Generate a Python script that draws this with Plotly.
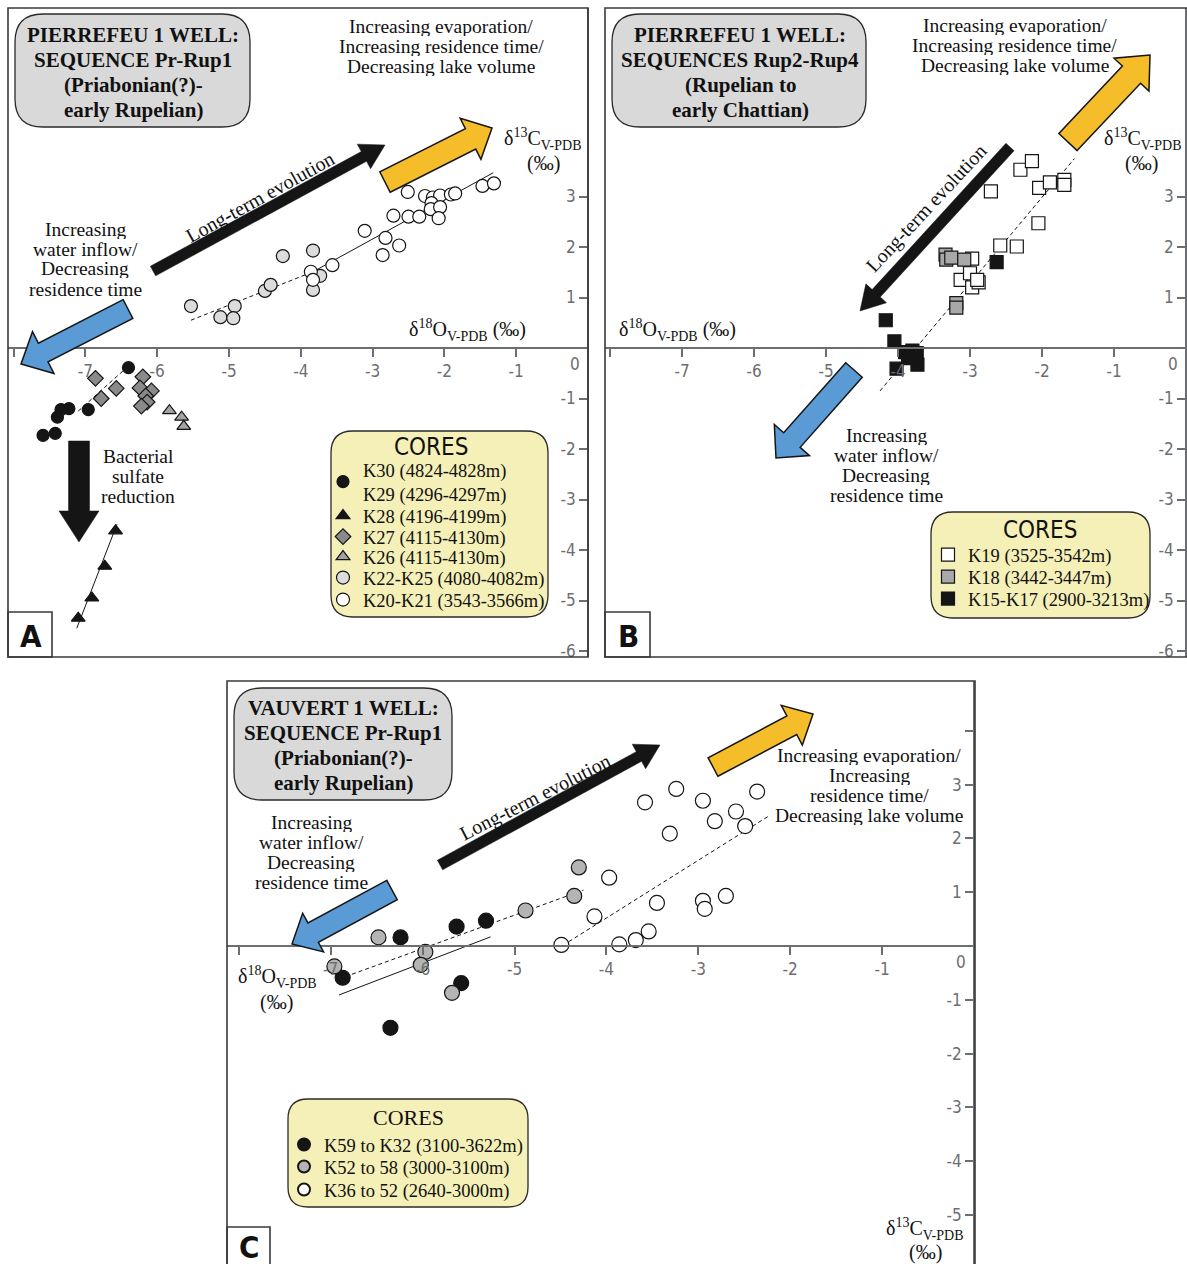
import math
import plotly.graph_objects as go

W, H = 1187, 1264

# ---------------- DATA ----------------
# Panel A  (Pierrefeu 1, Pr-Rup1)
A_K30_x = [-6.40, -6.96, -7.23, -7.34, -7.39, -7.42, -7.59]
A_K30_y = [-0.39, -1.22, -1.20, -1.22, -1.37, -1.69, -1.73]
A_K28_x = [-6.58, -6.73, -6.91, -7.10]
A_K28_y = [-3.62, -4.32, -4.95, -5.35]
A_K27_x = [-6.86, -6.57, -6.78, -6.20, -6.24, -6.08, -6.16, -6.14, -6.22]
A_K27_y = [-0.60, -0.80, -1.00, -0.57, -0.79, -0.85, -0.95, -1.07, -1.15]
A_K26_x = [-5.83, -5.66, -5.63]
A_K26_y = [-1.24, -1.37, -1.55]
A_K22_x = [-5.53, -5.12, -4.92, -4.94, -4.50, -4.42, -4.25, -3.83, -3.73, -3.83]
A_K22_y = [0.83, 0.61, 0.83, 0.59, 1.13, 1.25, 1.82, 1.93, 1.43, 1.15]
A_K20_x = [-3.86, -3.83, -3.56, -3.11, -2.82, -2.63, -2.86, -2.71, -2.50, -2.35, -2.51,
           -2.27, -2.16, -2.06, -2.18, -2.19, -2.06, -2.08, -1.91, -1.85, -1.47, -1.31]
A_K20_y = [1.51, 1.35, 1.64, 2.32, 2.18, 2.03, 1.84, 2.62, 2.60, 2.60, 3.09,
           3.01, 2.98, 3.02, 2.87, 2.75, 2.79, 2.57, 3.04, 3.06, 3.21, 3.26]
A_fit_dash_x = [-5.53, -3.83]
A_fit_dash_y = [0.55, 1.51]
A_fit_solid_x = [-3.83, -1.32]
A_fit_solid_y = [1.51, 3.47]
A_fit_black_x = [-7.10, -6.45]
A_fit_black_y = [-1.25, -0.42]
A_fit_tri_x = [-7.12, -6.56]
A_fit_tri_y = [-5.55, -3.49]

# Panel B  (Pierrefeu 1, Rup2-Rup4)
B_K19_x = [-2.30, -2.14, -2.71, -2.04, -1.89, -1.69, -1.69, -2.05, -2.58, -2.35,
           -2.97, -3.13, -3.00, -2.97, -2.88, -2.90]
B_K19_y = [3.53, 3.70, 3.10, 3.17, 3.28, 3.33, 3.23, 2.47, 2.03, 2.01,
           1.77, 1.35, 1.48, 1.20, 1.30, 1.35]
B_K18_x = [-3.34, -3.33, -3.26, -3.08, -3.19, -3.19]
B_K18_y = [1.85, 1.75, 1.79, 1.75, 0.89, 0.80]
B_K15_x = [-2.63, -4.17, -4.05, -3.90, -3.74, -3.73, -4.02, -3.86, -3.80]
B_K15_y = [1.70, 0.55, 0.13, -0.08, -0.10, -0.33, -0.41, -0.20, -0.05]
B_fit_x = [-4.25, -1.55]
B_fit_y = [-0.85, 3.75]

# Panel C  (Vauvert 1, Pr-Rup1)
C_K59_x = [-6.24, -5.63, -5.31, -6.87, -5.58, -6.35]
C_K59_y = [0.16, 0.36, 0.47, -0.59, -0.69, -1.52]
C_K52_x = [-6.48, -5.97, -6.02, -6.96, -5.68, -4.88, -4.35, -4.30]
C_K52_y = [0.16, -0.11, -0.35, -0.38, -0.87, 0.66, 0.93, 1.46]
C_K36_x = [-4.49, -4.13, -3.97, -3.86, -3.68, -3.54, -3.45, -2.95, -2.93, -2.70,
           -3.31, -3.58, -3.24, -2.95, -2.82, -2.59, -2.49, -2.36]
C_K36_y = [0.02, 0.55, 1.27, 0.03, 0.11, 0.27, 0.80, 0.84, 0.69, 0.93,
           2.09, 2.67, 2.92, 2.70, 2.32, 2.50, 2.23, 2.87]
C_fit_gray_x = [-6.84, -4.25]
C_fit_gray_y = [-0.57, 1.04]
C_fit_black_x = [-6.91, -5.26]
C_fit_black_y = [-0.91, 0.17]
C_fit_white_x = [-4.41, -2.22]
C_fit_white_y = [0.08, 2.43]

X_TICKS = [-8, -7, -6, -5, -4, -3, -2, -1]
X_TICKTEXT = ["", "-7", "-6", "-5", "-4", "-3", "-2", "-1"]
AB_Y_TICKS = [-6, -5, -4, -3, -2, -1, 1, 2, 3]
C_Y_TICKS = [-5, -4, -3, -2, -1, 1, 2, 3, 4]
C_Y_TICKTEXT = ["-5", "-4", "-3", "-2", "-1", "1", "2", "3", ""]

# ---------------- STYLE ----------------
SERIF = "Liberation Serif, Times New Roman, serif"
COND = "Liberation Sans Narrow, DejaVu Sans Condensed, sans-serif"
AXC = "#6d6e71"
BLACK = "#151515"
YELLOW = "#f5bd2a"
BLUE = "#5b9bd5"
LEGBG = "#f4f0b8"
TITLEBG = "#d9d9d9"


def px(x):
    return x / W


def py(y):
    return 1 - y / H


fig = go.Figure()
mk_line = dict(color=BLACK, width=1.2)
legend_specs = {}   # legend id -> (left px, centre y px)
leg_counter = [0]


def new_legend(xpx, ypx):
    leg_counter[0] += 1
    lid = "legend" if leg_counter[0] == 1 else f"legend{leg_counter[0]}"
    legend_specs[lid] = (xpx, ypx)
    return lid


def pts(x, y, name, symbol, color, size, xa, ya, leg_xy):
    lid = new_legend(*leg_xy)
    fig.add_trace(go.Scatter(
        x=x, y=y, mode="markers", name=name, legend=lid,
        xaxis=xa, yaxis=ya,
        marker=dict(symbol=symbol, color=color, size=size, line=mk_line)))


def fit(x, y, dash, xa, ya):
    fig.add_trace(go.Scatter(
        x=x, y=y, mode="lines", showlegend=False, hoverinfo="skip",
        xaxis=xa, yaxis=ya, line=dict(color=BLACK, width=1, dash=dash)))


# Panel A traces
fit(A_fit_dash_x, A_fit_dash_y, "4px,3px", "x", "y")
fit(A_fit_solid_x, A_fit_solid_y, "solid", "x", "y")
fit(A_fit_black_x, A_fit_black_y, "4px,3px", "x", "y")
fit(A_fit_tri_x, A_fit_tri_y, "solid", "x", "y")
pts(A_K30_x, A_K30_y, "K30 (4824-4828m)<br>K29 (4296-4297m)", "circle", BLACK, 12, "x", "y", (323, 482))
pts(A_K28_x, A_K28_y, "K28 (4196-4199m)", "triangle-up", BLACK, 12, "x", "y", (323, 516))
pts(A_K27_x, A_K27_y, "K27 (4115-4130m)", "diamond", "#8a8a8a", 12, "x", "y", (323, 537))
pts(A_K26_x, A_K26_y, "K26 (4115-4130m)", "triangle-up", "#a3a3a3", 12, "x", "y", (323, 557))
pts(A_K22_x, A_K22_y, "K22-K25 (4080-4082m)", "circle", "#dcdcdc", 13, "x", "y", (323, 578))
pts(A_K20_x, A_K20_y, "K20-K21 (3543-3566m)", "circle", "white", 13, "x", "y", (323, 600))

# Panel B traces
fit(B_fit_x, B_fit_y, "4px,3px", "x2", "y2")
pts(B_K19_x, B_K19_y, "K19 (3525-3542m)", "square", "white", 13, "x2", "y2", (928, 555))
pts(B_K18_x, B_K18_y, "K18 (3442-3447m)", "square", "#a8a8a8", 13, "x2", "y2", (928, 577))
pts(B_K15_x, B_K15_y, "K15-K17 (2900-3213m)", "square", BLACK, 13, "x2", "y2", (928, 599))

# Panel C traces
fit(C_fit_gray_x, C_fit_gray_y, "4px,3px", "x3", "y3")
fit(C_fit_black_x, C_fit_black_y, "solid", "x3", "y3")
fit(C_fit_white_x, C_fit_white_y, "4px,3px", "x3", "y3")
pts(C_K59_x, C_K59_y, "K59 to K32 (3100-3622m)", "circle", BLACK, 15, "x3", "y3", (284, 1145))
pts(C_K52_x, C_K52_y, "K52 to 58 (3000-3100m)", "circle", "#b4b4b4", 15, "x3", "y3", (284, 1167))
pts(C_K36_x, C_K36_y, "K36 to 52 (2640-3000m)", "circle", "white", 15, "x3", "y3", (284, 1190))

# ---------------- AXES ----------------
tickfont = dict(family=COND, size=17, color=AXC)


def xax(dom_px, rng, zero_py):
    return dict(domain=[px(dom_px[0]), px(dom_px[1])], range=rng, anchor="free",
                position=py(zero_py), showline=True, linecolor=AXC, linewidth=1.5,
                ticks="outside", ticklen=8, tickwidth=1.5, tickcolor=AXC,
                tickvals=X_TICKS, ticktext=X_TICKTEXT, tickfont=tickfont,
                showgrid=False, zeroline=False, fixedrange=True)


def yax(dom_py, rng, zero_px, tv, tt):
    return dict(domain=[py(dom_py[1]), py(dom_py[0])], range=rng, anchor="free",
                position=px(zero_px), side="left", showline=True, linecolor=AXC,
                linewidth=1.5, ticks="outside", ticklen=8, tickwidth=1.5, tickcolor=AXC,
                tickvals=tv, ticktext=tt, tickfont=tickfont,
                showgrid=False, zeroline=False, fixedrange=True)


ab_tt = [str(v) for v in AB_Y_TICKS]
fig.update_layout(
    xaxis=xax((8, 588), [(8 - 588) / 71.8, 0], 348),
    yaxis=yax((8, 657), [(348 - 657) / 50.5, (348 - 8) / 50.5], 588, AB_Y_TICKS, ab_tt),
    xaxis2=xax((605, 1186), [(605 - 1186) / 72.0, 0], 348),
    yaxis2=yax((8, 657), [(348 - 657) / 50.5, (348 - 8) / 50.5], 1186, AB_Y_TICKS, ab_tt),
    xaxis3=xax((227, 974), [(227 - 974) / 91.9, 0], 946),
    yaxis3=yax((681, 1264), [(946 - 1264) / 53.8, (946 - 681) / 53.8], 974, C_Y_TICKS, C_Y_TICKTEXT),
)

# ---------------- SHAPES ----------------
shapes = []


def rect(x0, y0, x1, y1, color="#3a3a3a", width=1.6):
    shapes.append(dict(type="rect", xref="paper", yref="paper",
                       x0=px(x0), x1=px(x1), y0=py(y1), y1=py(y0),
                       line=dict(color=color, width=width),
                       fillcolor="rgba(0,0,0,0)", layer="above"))


def rrect(x0, y0, x1, y1, r, fill):
    P = lambda a, b: f"{px(a):.5f},{py(b):.5f}"
    d = (f"M{P(x0 + r, y0)} L{P(x1 - r, y0)} Q{P(x1, y0)} {P(x1, y0 + r)} "
         f"L{P(x1, y1 - r)} Q{P(x1, y1)} {P(x1 - r, y1)} L{P(x0 + r, y1)} "
         f"Q{P(x0, y1)} {P(x0, y1 - r)} L{P(x0, y0 + r)} Q{P(x0, y0)} {P(x0 + r, y0)} Z")
    shapes.append(dict(type="path", xref="paper", yref="paper", path=d,
                       fillcolor=fill, line=dict(color="#2a2a2a", width=1.3), layer="above"))


def arrow(tail, tip, shaft, head, hlen, fill, outline=None):
    tx, ty = tail
    hx, hy = tip
    L = math.hypot(hx - tx, hy - ty)
    ux, uy = (hx - tx) / L, (hy - ty) / L
    nx, ny = -uy, ux
    bx, by = hx - ux * hlen, hy - uy * hlen
    s, h = shaft / 2, head / 2
    ptsl = [(tx + nx * s, ty + ny * s), (bx + nx * s, by + ny * s), (bx + nx * h, by + ny * h),
            (hx, hy), (bx - nx * h, by - ny * h), (bx - nx * s, by - ny * s), (tx - nx * s, ty - ny * s)]
    d = "M" + " L".join(f"{px(a):.5f},{py(b):.5f}" for a, b in ptsl) + " Z"
    shapes.append(dict(type="path", xref="paper", yref="paper", path=d, fillcolor=fill,
                       line=dict(color=outline if outline else fill, width=1.5 if outline else 0.5),
                       layer="above"))


# panel frames
rect(8, 8, 588, 657)
rect(605, 8, 1195, 657)
rect(227, 681, 975, 1275)
# letter boxes
rect(8, 612, 52, 657)
rect(605, 612, 650, 657)
rect(227, 1227, 270, 1275)
# title boxes
rrect(15, 14, 250, 127, 28, TITLEBG)
rrect(612, 14, 866, 127, 28, TITLEBG)
rrect(234, 688, 452, 800, 28, TITLEBG)
# legend boxes
rrect(331, 431, 548, 617, 22, LEGBG)
rrect(931, 512, 1150, 618, 22, LEGBG)
rrect(288, 1099, 528, 1207, 20, LEGBG)

# arrows - panel A
arrow((153, 271), (385, 145), 11, 28, 24, BLACK)
arrow((385, 182), (492, 128), 23, 46, 24, YELLOW, BLACK)
arrow((128, 309), (21, 364), 21, 47, 25, BLUE, BLACK)
arrow((79, 441), (79, 542), 21, 40, 31, BLACK)
# arrows - panel B
arrow((1010, 147), (860, 311), 11, 28, 24, BLACK)
arrow((1068, 142), (1150, 55), 25, 48, 27, YELLOW, BLACK)
arrow((854, 370), (776, 458), 22, 47, 24, BLUE, BLACK)
# arrows - panel C
arrow((440, 865), (660, 745), 11, 28, 24, BLACK)
arrow((713, 767), (813, 714), 21, 45, 24, YELLOW, BLACK)
arrow((392, 890), (292, 944), 22, 44, 24, BLUE, BLACK)

# ---------------- TEXT ----------------
ann = []


def lines(txts, cx, cy, size=19.5, bold=False, step=20):
    n = len(txts)
    for i, t in enumerate(txts):
        y = cy + (i - (n - 1) / 2) * step
        ann.append(dict(text=f"<b>{t}</b>" if bold else t, x=px(cx), y=py(y), xref="paper",
                        yref="paper", showarrow=False, xanchor="center", yanchor="middle",
                        height=step, font=dict(family=SERIF, size=size, color="#111")))


def label(t, cx, cy, size=20, angle=0, family=SERIF, color="#111"):
    ann.append(dict(text=t, x=px(cx), y=py(cy), xref="paper", yref="paper", showarrow=False,
                    xanchor="center", yanchor="middle", textangle=angle,
                    font=dict(family=family, size=size, color=color)))


evap3 = ["Increasing evaporation/", "Increasing residence time/", "Decreasing lake volume"]
inflow = ["Increasing", "water inflow/", "Decreasing", "residence time"]
d18 = "δ<sup>18</sup>O<sub>V-PDB</sub> (‰)"
d13 = "δ<sup>13</sup>C<sub>V-PDB</sub>"
LETTER = "DejaVu Sans Condensed, DejaVu Sans, sans-serif"

# Panel A
lines(["PIERREFEU 1 WELL:", "SEQUENCE Pr-Rup1", "(Priabonian(?)-", "early Rupelian)"],
      133, 71.5, size=21, bold=True, step=25)
lines(evap3, 441, 46)
lines(inflow, 85, 258.5)
lines(["Bacterial", "sulfate", "reduction"], 138, 476)
label("Long-term evolution", 260, 197, angle=-29)
label(d18, 467, 330)
label(d13, 543, 139)
label("(‰)", 543, 163)
label("<b>A</b>", 31, 636, size=31, family=LETTER)
label("CORES", 431, 447, size=24, family=COND)

# Panel B
lines(["PIERREFEU 1 WELL:", "SEQUENCES Rup2-Rup4", "(Rupelian to", "early Chattian)"],
      740, 71.5, size=21, bold=True, step=25)
lines(evap3, 1015, 45)
lines(inflow, 886, 465)
label("Long-term evolution", 926, 208, angle=-47)
label(d18, 677, 330)
label(d13, 1143, 139)
label("(‰)", 1141, 163)
label("<b>B</b>", 628, 636, size=31, family=LETTER)
label("CORES", 1040, 530, size=24, family=COND)

# Panel C
lines(["VAUVERT 1 WELL:", "SEQUENCE Pr-Rup1", "(Priabonian(?)-", "early Rupelian)"],
      343, 745, size=21, bold=True, step=25)
lines(["Increasing evaporation/", "Increasing", "residence time/", "Decreasing lake volume"],
      869, 785)
lines(inflow, 311, 852)
label("Long-term evolution", 535, 797, angle=-27)
label("δ<sup>18</sup>O<sub>V-PDB</sub>", 277, 977)
label("(‰)", 276, 1002)
label(d13, 925, 1229)
label("(‰)", 925, 1252)
label("<b>C</b>", 249, 1247, size=31, family=LETTER)
label("CORES", 408, 1117, size=22, family=SERIF)

# origin "0" labels
for xa, ya in (("x", "y"), ("x2", "y2"), ("x3", "y3")):
    ann.append(dict(text="0", x=0, y=0, xref=xa, yref=ya, showarrow=False, xanchor="right",
                    yanchor="top", xshift=-6, yshift=-4, font=tickfont))

# ---------------- LEGENDS (one per entry, placed inside the yellow boxes) ----------------
legfont = dict(family=SERIF, size=18.5, color="#111")
legend_layout = {}
for lid, (lx, ly) in legend_specs.items():
    legend_layout[lid] = dict(
        x=px(lx), y=py(ly), xanchor="left", yanchor="middle",
        bgcolor="rgba(0,0,0,0)", borderwidth=0, font=legfont,
        itemsizing="constant" if ly > 1000 else "trace",
        itemclick=False, itemdoubleclick=False)

fig.update_layout(
    width=W, height=H, margin=dict(l=0, r=0, t=0, b=0, pad=0),
    paper_bgcolor="white", plot_bgcolor="rgba(0,0,0,0)", template="none",
    showlegend=True, shapes=shapes, annotations=ann, **legend_layout,
)

fig.write_html("out.html", config={"displayModeBar": False},
               post_script="document.body.style.margin='0px';document.body.style.overflow='hidden';")
